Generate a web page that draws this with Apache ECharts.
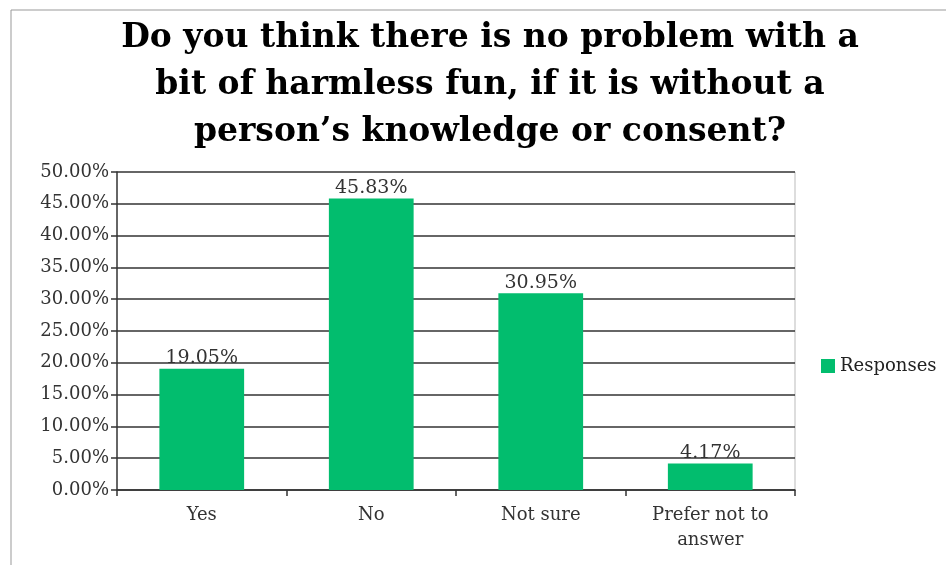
<!DOCTYPE html>
<html>
<head>
  <meta charset="UTF-8">
  <title>Harmless fun survey</title>
  <script src="https://cdn.jsdelivr.net/npm/echarts@6/dist/echarts.min.js"></script>
  <style>body{margin:0;background:#fff}</style>
</head>
<body>
  <div id="main" style="width:946px;height:565px"></div>
  <script>
  const categories = ['Yes', 'No', 'Not sure', 'Prefer not to\nanswer'];
  const responses = [19.05, 45.83, 30.95, 4.17];
  const seriesName = 'Responses';
  const titleText = 'Do you think there is no problem with a\nbit of harmless fun, if it is without a\nperson\u2019s knowledge or consent?';

  const serif = '"DejaVu Serif", serif';
  const chart = echarts.init(document.getElementById('main'));
  chart.setOption({
    animation: false,
    title: {
      text: titleText,
      left: 485, top: 10, textAlign: 'center',
      textStyle: {fontFamily: serif, fontWeight: 'bold', fontSize: 33, lineHeight: 47, color: '#000'}
    },
    legend: {
      data: [seriesName],
      left: 816, top: 352, icon: 'rect',
      itemWidth: 14, itemHeight: 14, itemGap: 3,
      textStyle: {fontFamily: serif, fontSize: 18, color: '#222'}
    },
    grid: {left: 117, right: 151, top: 172, bottom: 75},
    graphic: [{
      type: 'rect', shape: {x: 11, y: 10, width: 1000, height: 1000},
      style: {fill: 'none', stroke: '#999', lineWidth: 1}, silent: true
    }, {
      type: 'line', shape: {x1: 795, y1: 172, x2: 795, y2: 490},
      style: {stroke: '#bbb', lineWidth: 1}, silent: true
    }],
    xAxis: {
      type: 'category', data: categories,
      axisLine: {lineStyle: {color: '#333', width: 1.5}},
      axisTick: {show: true, length: 6, lineStyle: {color: '#333', width: 1.5}},
      axisLabel: {fontFamily: serif, fontSize: 18, color: '#333', lineHeight: 25, margin: 13}
    },
    yAxis: {
      type: 'value', min: 0, max: 50, interval: 5,
      axisLine: {show: true, lineStyle: {color: '#333', width: 1.5}},
      axisTick: {show: true, length: 6, lineStyle: {color: '#333', width: 1.5}},
      splitLine: {lineStyle: {color: '#333', width: 1.5}},
      axisLabel: {fontFamily: serif, fontSize: 18, color: '#333', margin: 8,
        formatter: v => v.toFixed(2) + '%'}
    },
    series: [{
      name: seriesName, type: 'bar', data: responses, barWidth: '50%',
      itemStyle: {color: '#02bd6e'},
      label: {show: true, position: 'top', distance: 1, fontFamily: serif, fontSize: 19, color: '#333',
        formatter: p => p.value.toFixed(2) + '%'}
    }]
  });
  </script>
</body>
</html>
